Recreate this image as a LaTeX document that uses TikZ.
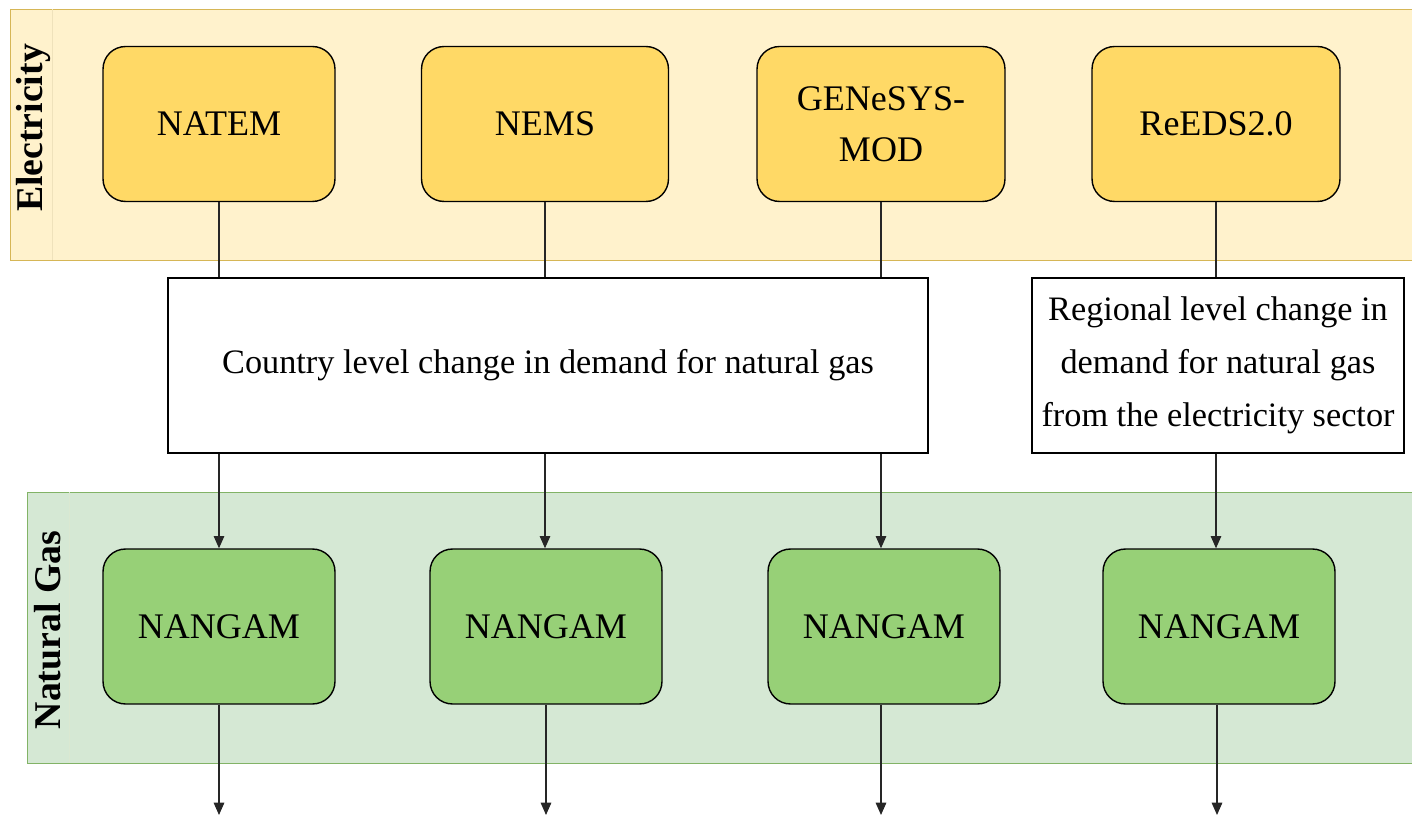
\documentclass[tikz,border=0pt]{standalone}
\usepackage{fontspec}
\setmainfont{Liberation Serif}
\usetikzlibrary{arrows.meta}

\definecolor{elecband}{HTML}{FFF2CC}
\definecolor{elecline}{HTML}{D6B656}
\definecolor{elecbox}{HTML}{FFD966}
\definecolor{gasband}{HTML}{D5E8D4}
\definecolor{gasline}{HTML}{82B366}
\definecolor{gasbox}{HTML}{97D077}

\begin{document}
\begin{tikzpicture}[x=0.02cm,y=-0.02cm,
  model/.style={draw, line width=0.8pt, rounded corners=0.45cm, minimum width=4.64cm,
    minimum height=3.1cm, align=center, font=\fontsize{20.5}{29}\selectfont},
  elec/.style={model, fill=elecbox},
  gas/.style={model, fill=gasbox},
  note/.style={draw, line width=0.8pt, fill=white, align=center},
  lane/.style={font=\bfseries\fontsize{21.5}{24}\selectfont, rotate=90},
  link/.style={draw=black!85, line width=0.7pt},
  flow/.style={link, -{Triangle[length=7pt,width=6pt]}}]

\useasboundingbox (0,0) rectangle (1412,820);

\fill[elecband] (10,9) rectangle (1412,260);
\draw[elecline] (10,9) -- (1412,9) (10,9) -- (10,260) -- (1412,260);
\draw[elecline!40] (52,9) -- (52,260);
\node[lane] (eleclab) at (33,128) {Electricity};

\fill[gasband] (27,492) rectangle (1412,763);
\draw[gasline] (27,492) -- (1412,492) (27,492) -- (27,763) -- (1412,763);
\draw[gasline!30] (69,492) -- (69,763);
\node[lane] (gaslab) at (48,630) {Natural Gas};

\node[elec] (natem) at (219,124) {NATEM};
\node[elec, minimum width=4.94cm] (nems) at (545,124) {NEMS};
\node[elec, minimum width=4.96cm] (genesys) at (881,124) {GENeSYS-\\MOD};
\node[elec, minimum width=4.96cm] (reeds) at (1216,124) {ReEDS2.0};

\node[note, minimum width=15.2cm, minimum height=3.5cm, font=\fontsize{19.5}{22}\selectfont]
  (country) at (548,365.5) {Country level change in demand for natural gas};
\node[note, minimum width=7.44cm, minimum height=3.5cm, font=\fontsize{19.5}{30}\selectfont]
  (region) at (1218,365.5) {Regional level change in\\demand for natural gas\\from the electricity sector};

\node[gas] (nangamA) at (219,626.5) {NANGAM};
\node[gas] (nangamB) at (546,626.5) {NANGAM};
\node[gas] (nangamC) at (884,626.5) {NANGAM};
\node[gas] (nangamD) at (1219,626.5) {NANGAM};

\coordinate (outA) at (219,815);
\coordinate (outB) at (546,815);
\coordinate (outC) at (881,815);
\coordinate (outD) at (1217,815);

\draw[link] (natem) -- (natem |- country.north);
\draw[link] (nems) -- (nems |- country.north);
\draw[link] (genesys) -- (genesys |- country.north);
\draw[link] (reeds) -- (reeds |- region.north);

\draw[flow] (natem |- country.south) -- (natem |- nangamA.north);
\draw[flow] (nems |- country.south) -- (nems |- nangamB.north);
\draw[flow] (genesys |- country.south) -- (genesys |- nangamC.north);
\draw[flow] (reeds |- region.south) -- (reeds |- nangamD.north);

\draw[flow] (nangamA) -- (outA);
\draw[flow] (nangamB) -- (outB);
\draw[flow] (outC |- nangamC.south) -- (outC);
\draw[flow] (outD |- nangamD.south) -- (outD);

\end{tikzpicture}
\end{document}
